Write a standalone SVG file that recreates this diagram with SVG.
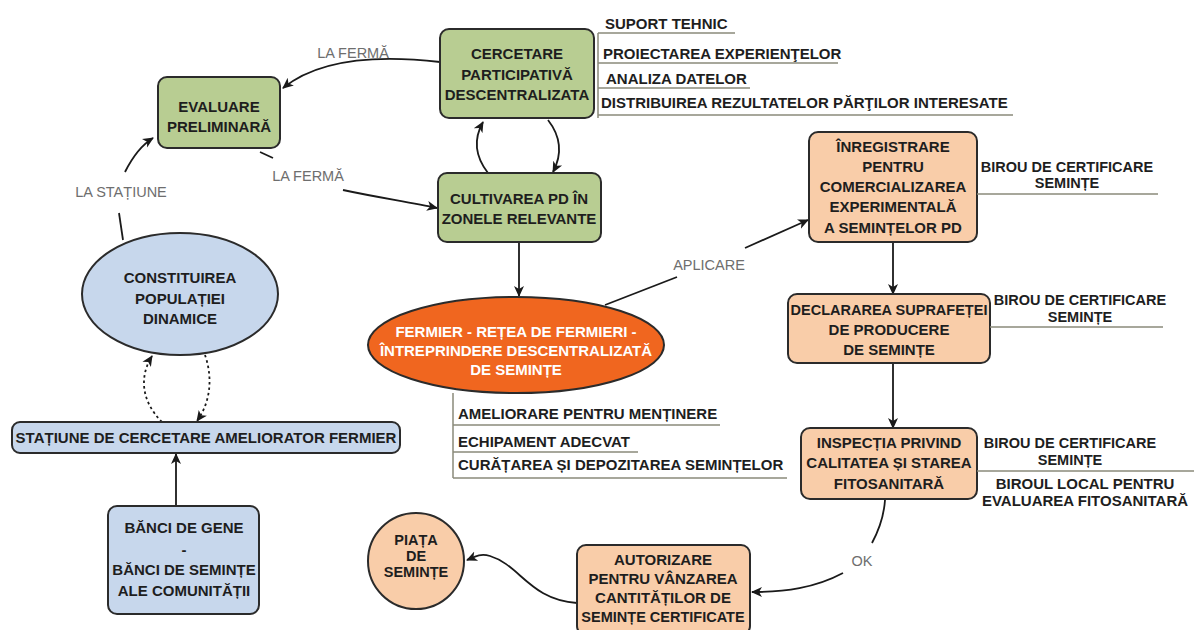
<svg xmlns="http://www.w3.org/2000/svg" width="1194" height="630" viewBox="0 0 1194 630">
<defs>
<marker id="arr" markerWidth="12" markerHeight="12" viewBox="0 0 12 12" refX="10" refY="6" orient="auto" markerUnits="userSpaceOnUse">
<path d="M0,1 L11,6 L0,11 L3,6 Z" fill="#1a1a1a"/>
</marker>
<style>
.g{fill:#b8cd92;stroke:#2b2b2b;stroke-width:2}
.b{fill:#c7d7ec;stroke:#2b2b2b;stroke-width:2}
.p{fill:#f9cda9;stroke:#2b2b2b;stroke-width:2}
.o{fill:#f0661f;stroke:#2b2b2b;stroke-width:2}
.t{font-family:"Liberation Sans",Arial,sans-serif;font-weight:bold;font-size:15px;fill:#1e1e1e;text-anchor:middle}
.s{font-size:14.5px}
.tl{font-family:"Liberation Sans",Arial,sans-serif;font-weight:bold;font-size:15px;fill:#1e1e1e}
.w{fill:#ffffff}
.lab{font-family:"Liberation Sans",Arial,sans-serif;font-size:14.5px;fill:#6e6e6e;text-anchor:middle}
.c{fill:none;stroke:#1a1a1a;stroke-width:1.8}
.d{fill:none;stroke:#1a1a1a;stroke-width:1.8;stroke-dasharray:2.5 3}
.u{fill:none;stroke:#8a8a7a;stroke-width:1.5}
</style>
</defs>
<rect width="1194" height="630" fill="#ffffff"/>

<g id="connectors">
<path class="c" d="M440,62 C380,55 320,58 283,88" marker-end="url(#arr)"/>
<path class="c" d="M260,152 L273,158"/>
<path class="c" d="M343,190 C380,198 410,202 437,208" marker-end="url(#arr)"/>
<path class="c" d="M488,173 C474,155 474,138 483,122" marker-end="url(#arr)"/>
<path class="c" d="M548,120 C562,138 562,155 553,172" marker-end="url(#arr)"/>
<path class="c" d="M519,242 L519,296" marker-end="url(#arr)"/>
<path class="c" d="M605,305 L677,277"/>
<path class="c" d="M745,248 L808,220" marker-end="url(#arr)"/>
<path class="c" d="M893,242 L893,294" marker-end="url(#arr)"/>
<path class="c" d="M893,363 L893,428" marker-end="url(#arr)"/>
<path class="c" d="M885,500 C884,515 879,530 872,543"/>
<path class="c" d="M843,573 C815,588 785,592 752,592" marker-end="url(#arr)"/>
<path class="c" d="M577,603 C530,600 520,565 490,556 C480,553 474,557 467,560" marker-end="url(#arr)"/>
<path class="c" d="M123,240 L119,213"/>
<path class="c" d="M125,172 C132,158 140,146 153,138" marker-end="url(#arr)"/>
<path class="d" d="M162,422 C140,400 140,375 152,356" marker-end="url(#arr)"/>
<path class="d" d="M205,355 C212,375 212,400 197,421" marker-end="url(#arr)"/>
<path class="c" d="M176,506 L176,454" marker-end="url(#arr)"/>
<text class="lab" x="353" y="58">LA FERMĂ</text>
<text class="lab" x="308" y="181">LA FERMĂ</text>
<text class="lab" x="121" y="197">LA STAȚIUNE</text>
<text class="lab" x="709" y="270">APLICARE</text>
<text class="lab" x="862" y="566">OK</text>
</g>

<g id="cercetare-items">
<path class="u" d="M598,33 L598,118"/>
<path class="u" d="M598,33 L735,33"/>
<path class="u" d="M598,63 L838,63"/>
<path class="u" d="M598,88 L750,88"/>
<path class="u" d="M598,115 L1013,115"/>
<text class="tl" x="605" y="29">SUPORT TEHNIC</text>
<text class="tl" x="603" y="59">PROIECTAREA EXPERIENŢELOR</text>
<text class="tl" x="606" y="84">ANALIZA DATELOR</text>
<text class="tl" x="601" y="108">DISTRIBUIREA REZULTATELOR PĂRŢILOR INTERESATE</text>
</g>

<g id="evaluare">
<rect class="g" x="158" y="77" width="122" height="71" rx="9"/>
<text class="t" x="219" y="112">EVALUARE</text>
<text class="t" x="219" y="132">PRELIMINARĂ</text>
</g>

<g id="cercetare">
<rect class="g" x="440" y="29" width="154" height="89" rx="9"/>
<text class="t" x="517" y="59">CERCETARE</text>
<text class="t" x="517" y="80">PARTICIPATIVĂ</text>
<text class="t" x="517" y="100">DESCENTRALIZATA</text>
</g>

<g id="cultivarea">
<rect class="g" x="438" y="173" width="163" height="69" rx="9"/>
<text class="t" x="519" y="204">CULTIVAREA PD ÎN</text>
<text class="t" x="519" y="224">ZONELE RELEVANTE</text>
</g>

<g id="constituirea">
<ellipse class="b" cx="180" cy="294" rx="98" ry="61"/>
<text class="t" x="180" y="283">CONSTITUIREA</text>
<text class="t" x="180" y="304">POPULAȚIEI</text>
<text class="t" x="180" y="324">DINAMICE</text>
</g>

<g id="statiune">
<rect class="b" x="12" y="422" width="388" height="31" rx="8"/>
<text class="t" x="206" y="443">STAȚIUNE DE CERCETARE AMELIORATOR FERMIER</text>
</g>

<g id="banci">
<rect class="b" x="108" y="506" width="151" height="108" rx="9"/>
<text class="t" x="184" y="533">BĂNCI DE GENE</text>
<text class="t" x="184" y="555">-</text>
<text class="t" x="184" y="575">BĂNCI DE SEMINȚE</text>
<text class="t" x="184" y="596">ALE COMUNITĂȚII</text>
</g>

<g id="fermier">
<ellipse class="o" cx="516" cy="345" rx="148" ry="48"/>
<text class="t w" x="516" y="337">FERMIER - REȚEA DE FERMIERI -</text>
<text class="t w" x="516" y="356">ÎNTREPRINDERE DESCENTRALIZATĂ</text>
<text class="t w" x="516" y="375">DE SEMINȚE</text>
</g>

<g id="fermier-items">
<path class="u" d="M453,393 L453,478"/>
<path class="u" d="M453,425 L720,425"/>
<path class="u" d="M453,452 L638,452"/>
<path class="u" d="M453,478 L787,478"/>
<text class="tl" x="458" y="419">AMELIORARE PENTRU MENȚINERE</text>
<text class="tl" x="458" y="447">ECHIPAMENT ADECVAT</text>
<text class="tl" x="458" y="470">CURĂȚAREA ȘI DEPOZITAREA SEMINȚELOR</text>
</g>

<g id="inregistrare">
<rect class="p" x="809" y="132" width="168" height="110" rx="9"/>
<text class="t" x="893" y="152">ÎNREGISTRARE</text>
<text class="t" x="893" y="172">PENTRU</text>
<text class="t" x="893" y="192">COMERCIALIZAREA</text>
<text class="t" x="893" y="212">EXPERIMENTALĂ</text>
<text class="t" x="893" y="233">A SEMINȚELOR PD</text>
</g>
<g id="birou1">
<path class="u" d="M977,194 L1158,194"/>
<text class="t s" x="1067" y="172">BIROU DE CERTIFICARE</text>
<text class="t s" x="1067" y="188">SEMINȚE</text>
</g>

<g id="declararea">
<rect class="p" x="788" y="294" width="202" height="69" rx="9"/>
<text class="t s" x="889" y="315">DECLARAREA SUPRAFEȚEI</text>
<text class="t" x="889" y="335">DE PRODUCERE</text>
<text class="t" x="889" y="355">DE SEMINȚE</text>
</g>
<g id="birou2">
<path class="u" d="M990,327 L1163,327"/>
<text class="t s" x="1080" y="305">BIROU DE CERTIFICARE</text>
<text class="t s" x="1080" y="322">SEMINȚE</text>
</g>

<g id="inspectia">
<rect class="p" x="801" y="428" width="176" height="71" rx="9"/>
<text class="t" x="889" y="448">INSPECȚIA PRIVIND</text>
<text class="t" x="889" y="468">CALITATEA ȘI STAREA</text>
<text class="t" x="889" y="489">FITOSANITARĂ</text>
</g>
<g id="birou3">
<path class="u" d="M977,471 L1194,471"/>
<text class="t s" x="1070" y="448">BIROU DE CERTIFICARE</text>
<text class="t s" x="1070" y="465">SEMINȚE</text>
<text class="t" x="1085" y="489">BIROUL LOCAL PENTRU</text>
<text class="t" x="1085" y="506">EVALUAREA FITOSANITARĂ</text>
</g>

<g id="autorizare">
<rect class="p" x="577" y="545" width="173" height="90" rx="9"/>
<text class="t" x="663" y="565">AUTORIZARE</text>
<text class="t" x="663" y="584">PENTRU VÂNZAREA</text>
<text class="t" x="663" y="603">CANTITĂȚILOR DE</text>
<text class="t s" x="663" y="622">SEMINȚE CERTIFICATE</text>
</g>

<g id="piata">
<circle class="p" cx="416" cy="561" r="48"/>
<text class="t s" x="416" y="545">PIAȚA</text>
<text class="t s" x="416" y="561">DE</text>
<text class="t s" x="416" y="577">SEMINȚE</text>
</g>
</svg>
